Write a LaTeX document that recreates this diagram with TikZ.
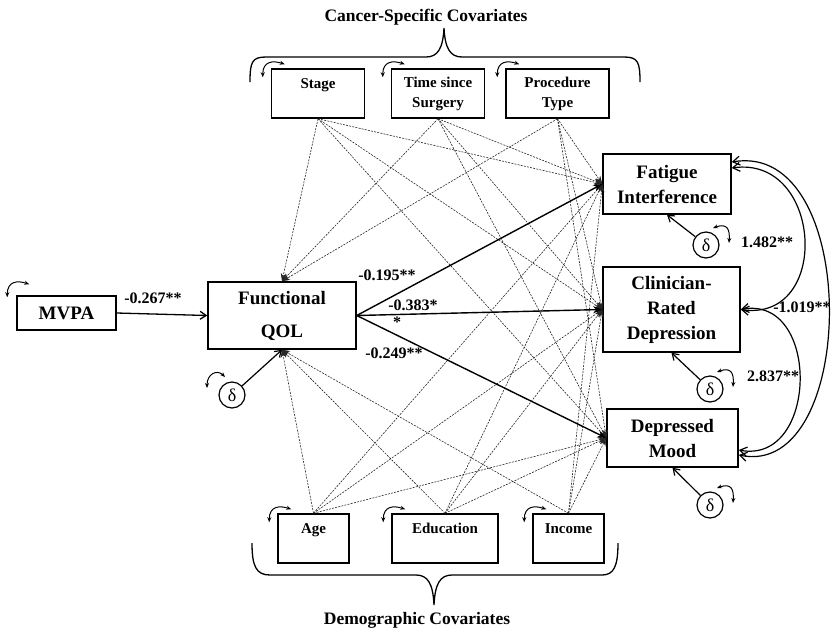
\documentclass[tikz,border=0pt]{standalone}
\usepackage{fontspec}
\setmainfont{Liberation Serif}
\usetikzlibrary{positioning, arrows.meta}

\begin{document}
\begin{tikzpicture}[x=1pt, y=-1pt, on grid, font=\bfseries]
    \tikzset{
        outbox/.style={draw, line width=1.5pt, align=center, inner sep=0pt, font=\bfseries\fontsize{19}{25}\selectfont},
        covbox/.style={draw, line width=1.5pt, align=center, inner sep=0pt, minimum height=49pt, font=\bfseries\fontsize{15}{20}\selectfont},
        err/.style={draw, circle, line width=1.2pt, minimum size=26pt, inner sep=0pt, font=\fontsize{18}{18}\selectfont},
        lab/.style={font=\bfseries\fontsize{16}{16}\selectfont, inner sep=0pt},
        ttl/.style={font=\bfseries\fontsize{17.5}{18}\selectfont, inner sep=0pt},
        brace/.style={line width=1.3pt},
        dotpath/.style={-{Stealth[length=8pt, width=6pt]}, line width=0.6pt, black!85, dash pattern=on 2pt off 1.2pt},
        mainpath/.style={-{Stealth[length=9pt, width=7pt]}, line width=1.4pt},
        errpath/.style={-{Straight Barb[length=6pt, width=8pt]}, line width=1.2pt},
        corr/.style={{Straight Barb[length=7pt, width=9pt]}-{Straight Barb[length=7pt, width=9pt]}, line width=1.2pt},
        varloop/.style={{Stealth[length=5pt, width=4pt]}-{Stealth[length=5pt, width=4pt]}, line width=1pt}
    }

    \useasboundingbox (0,0) rectangle (833,633);

    % model
    \node[outbox, minimum width=99pt, minimum height=34pt] (mvpa) at (66.5,313) {MVPA};
    \node[outbox, minimum width=148pt, minimum height=67pt] (qol) at (282,315.5) {Functional\\[8pt]QOL};
    \node[outbox, minimum width=128pt, minimum height=60pt] (fat) at (667,184) {Fatigue\\Interference};
    \node[outbox, minimum width=137pt, minimum height=85pt] (clin) at (671.5,309.5) {Clinician-\\Rated\\Depression};
    \node[outbox, minimum width=131pt, minimum height=58pt] (dep) at (672.5,438) {Depressed\\Mood};

    % covariates
    \node[covbox, minimum width=93pt] (stage) at (318,93.5) {Stage\\\mbox{}};
    \node[covbox, minimum width=93pt] (time) [right=120pt of stage] {Time since\\Surgery};
    \node[covbox, minimum width=103pt] (proc) [right=119.5pt of time] {Procedure\\Type};
    \node[covbox, minimum width=71pt] (age) at (313.5,538.5) {Age\\\mbox{}};
    \node[covbox, minimum width=106pt] (edu) at (445,538.5) {Education\\\mbox{}};
    \node[covbox, minimum width=71pt] (inc) at (568.5,538.5) {Income\\\mbox{}};

    \node[ttl] (cancer) at (426,17) {Cancer-Specific Covariates};
    \node[ttl] (demo) at (417,620) {Demographic Covariates};

    % residuals
    \node[err] (dqol) [below left=79.5pt and 50pt of qol] {δ};
    \node[err] (dfat) [below right=61pt and 39pt of fat] {δ};
    \node[err] (dclin) [below right=79.5pt and 38.5pt of clin] {δ};
    \node[err] (ddep) [below right=67pt and 37.5pt of dep] {δ};

    % covariate paths
    \foreach \cv in {stage,time,proc}
        \path[dotpath] (\cv.south) edge (qol.north) edge (fat.west) edge (clin.west) edge (dep.west);
    \foreach \cv in {age,edu,inc}
        \path[dotpath] (\cv.north) edge (qol.south) edge (fat.west) edge (clin.west) edge (dep.west);

    % structural paths
    \draw[errpath, line width=1.3pt] (mvpa.east) -- (qol.west);
    \path[mainpath] (qol.east) edge (fat.west) edge (clin.west) edge (dep.west);
    \path[errpath]
        (dqol) edge (qol.south)
        (dfat) edge (fat.south)
        (dclin) edge (clin.south)
        (ddep) edge (dep.south);

    \node[lab] (b267) at (153,298) {-0.267**};
    \node[lab] (b195) at (387,275) {-0.195**};
    \node[lab] (b383) at (413,305) {-0.383*};
    \node[lab] (bstar) at (397,322) {*};
    \node[lab] (b249) at (394,353) {-0.249**};

    % residual covariances
    \draw[corr] ([yshift=16pt]fat.east) .. controls +(91,-13) and +(91,13) .. (clin.east);
    \draw[corr] ([yshift=22pt]fat.east) .. controls +(130,-22) and +(120,25) .. ([yshift=-17pt]dep.east);
    \draw[corr] (clin.east) .. controls +(80,-15) and +(80,15) .. ([yshift=-12pt]dep.east);
    \node[lab] (v1482) at (767,242) {1.482**};
    \node[lab] (v2837) at (773,376) {2.837**};
    \node[lab] (c1019) at (802,307) {-1.019**};

    % variances
    \foreach \cv in {stage,time,proc,age,edu,inc}
        \draw[varloop] ([shift={(-8pt,-9pt)}]\cv.north west) .. controls +(0,-16) and +(-12,-4) .. ([shift={(14pt,4pt)}]\cv.north west);
    \draw[varloop] ([shift={(-9pt,-2pt)}]mvpa.north west) .. controls +(0,-16) and +(-12,-4) .. ([shift={(13pt,11pt)}]mvpa.north west);
    \foreach \e in {dfat,dclin,ddep}
        \draw[varloop] ([shift={(7pt,17pt)}]\e.center) .. controls +(14,-5) and +(1,-14) .. ([shift={(23pt,2pt)}]\e.center);
    \draw[varloop] ([shift={(-25pt,7pt)}]dqol.center) .. controls +(0,-14) and +(-8,-8) .. ([shift={(-7pt,18pt)}]dqol.center);

    % braces
    \draw[brace] (250,82) .. controls (250,62) and (252,57) .. (266,57) -- (426,57)
        .. controls (438,57) and (443,48) .. (444,28) .. controls (445,48) and (450,57) .. (462,57)
        -- (624,57) .. controls (638,57) and (640,62) .. (640,82);
    \draw[brace] (252,543) .. controls (252,566) and (256,575) .. (270,575) -- (416,575)
        .. controls (428,575) and (433,584) .. (434,605) .. controls (435,584) and (440,575) .. (452,575)
        -- (602,575) .. controls (614,575) and (618,566) .. (618,543);

\end{tikzpicture}
\end{document}
